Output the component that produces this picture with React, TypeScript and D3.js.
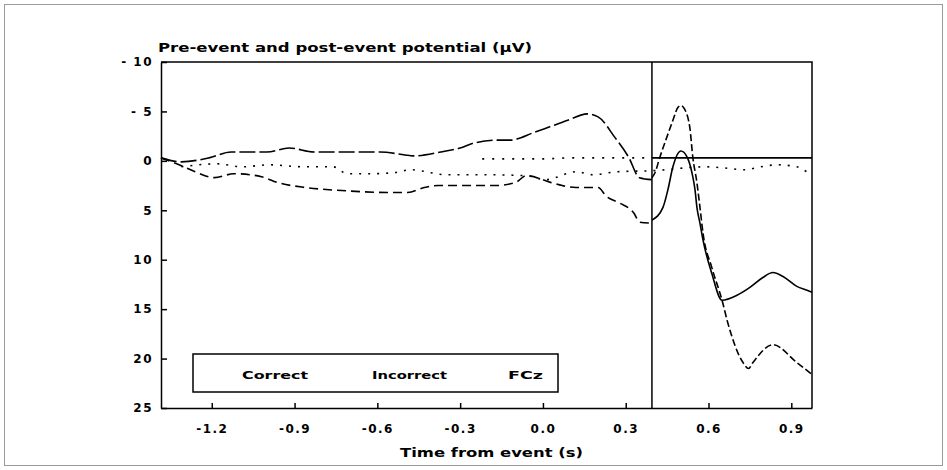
import { useRef, useEffect } from "react";
import * as d3 from "d3";

// pre-event traces (time in s, potential in µV; negative is drawn upward)
const timeA = [-1.384, -1.31, -1.21, -1.13, -1.0, -0.92, -0.83, -0.71, -0.59, -0.5, -0.47, -0.37, -0.3, -0.25, -0.16, -0.12, -0.03, 0.02, 0.09, 0.16, 0.2, 0.26, 0.31, 0.35, 0.395];
const traceA = [-0.3, 0.1, -0.3, -0.9, -0.9, -1.3, -0.9, -0.9, -0.9, -0.6, -0.5, -0.9, -1.3, -1.8, -2.1, -2.1, -2.9, -3.4, -4.1, -4.75, -4.45, -2.4, -0.4, 1.7, 1.9];

const timeB = [-1.384, -1.31, -1.26, -1.19, -1.12, -1.02, -0.96, -0.86, -0.73, -0.56, -0.49, -0.43, -0.38, -0.29, -0.17, -0.1, -0.06, 0.03, 0.07, 0.12, 0.2, 0.23, 0.28, 0.33, 0.35, 0.395];
const traceB = [-0.3, 0.5, 1.1, 1.7, 1.3, 1.6, 2.2, 2.7, 3.0, 3.2, 3.2, 2.7, 2.5, 2.5, 2.5, 2.2, 1.5, 2.2, 2.5, 2.7, 2.7, 3.6, 4.3, 5.3, 6.2, 6.3];

const timeC = [-1.31, -1.18, -1.09, -0.99, -0.87, -0.76, -0.71, -0.62, -0.54, -0.48, -0.35, -0.23, -0.06, 0.01, 0.12, 0.18, 0.27, 0.395, 0.59, 0.65, 0.73, 0.79, 0.85, 0.92, 0.96];
const traceC = [0.6, 0.3, 0.6, 0.4, 0.6, 0.6, 1.3, 1.3, 1.2, 0.9, 1.4, 1.4, 1.5, 1.9, 1.1, 1.4, 1.1, 1.0, 0.6, 0.7, 0.9, 0.6, 0.4, 0.6, 1.2];

const timeD = [-0.22, -0.15, -0.06, 0.0, 0.1, 0.2, 0.3, 0.395];
const traceD = [-0.2, -0.2, -0.2, -0.2, -0.3, -0.3, -0.3, -0.3];

// post-event traces
const postTimeA = [0.395, 0.406, 0.424, 0.449, 0.471, 0.489, 0.5, 0.514, 0.533, 0.543, 0.558, 0.569, 0.58, 0.612, 0.649, 0.67, 0.725, 0.745, 0.761, 0.833, 0.92, 0.975];
const postA = [1.7, 1.2, -0.4, -2.4, -4.1, -5.4, -5.6, -5.2, -3.2, -0.4, 2.2, 4.7, 7.3, 10.8, 14.1, 16.4, 20.4, 21.0, 20.4, 18.6, 20.4, 21.6];

const postTimeB = [0.395, 0.435, 0.453, 0.471, 0.5, 0.522, 0.54, 0.551, 0.558, 0.569, 0.58, 0.612, 0.649, 0.703, 0.75, 0.797, 0.833, 0.87, 0.92, 0.957, 0.975];
const postB = [6.0, 4.7, 2.9, 0.6, -1.0, -0.4, 1.2, 2.9, 4.7, 6.3, 8.0, 11.4, 14.1, 13.6, 12.8, 11.8, 11.3, 11.7, 12.7, 13.1, 13.3];

const baselineTime = [0.395, 0.975];
const baselineVal = [-0.3, -0.3];

const eventTime = 0.395;

const yTicks = [-10, -5, 0, 5, 10, 15, 20, 25];
const yTickLabels = ["- 10", "- 5", "0", "5", "10", "15", "20", "25"];
const xTicks = [-1.2, -0.9, -0.6, -0.3, 0.0, 0.3, 0.6, 0.9];
const xTickLabels = ["-1.2", "-0.9", "-0.6", "-0.3", "0.0", "0.3", "0.6", "0.9"];

const legendLabels = ["Correct", "Incorrect", "FCz"];

const titleText = "Pre-event and post-event potential (µV)";
const xLabel = "Time from event (s)";

const App = () => {
  const container = useRef<SVGSVGElement | null>(null);

  useEffect(() => {
    const svg = d3.select(container.current);
    svg.selectAll("*").remove();

    const font = "'DejaVu Sans', sans-serif";

    const xScale = d3.scaleLinear().domain([-1.384, 0.975]).range([161, 812]);
    const yScale = d3.scaleLinear().domain([-10, 25]).range([62, 408]);

    // outer frame
    svg
      .append("rect")
      .attr("x", 4.5)
      .attr("y", 4.5)
      .attr("width", 938)
      .attr("height", 461)
      .attr("fill", "white")
      .attr("stroke", "#9a9a9a");

    // plot frame (top + right)
    svg
      .append("path")
      .attr("d", `M${xScale(-1.384)},${yScale(-10)}H${xScale(0.975)}V${yScale(25)}`)
      .attr("fill", "none")
      .attr("stroke", "black")
      .attr("stroke-width", 1.5);

    // axes
    const yAxis = d3
      .axisLeft(yScale)
      .tickValues(yTicks)
      .tickSizeInner(-6)
      .tickSizeOuter(0)
      .tickPadding(8)
      .tickFormat((d, i) => yTickLabels[i]);

    const yg = svg
      .append("g")
      .attr("transform", `translate(${xScale(-1.384)},0)`)
      .call(yAxis);

    const xAxis = d3
      .axisBottom(xScale)
      .tickValues(xTicks)
      .tickSizeInner(-5)
      .tickSizeOuter(0)
      .tickPadding(16)
      .tickFormat((d, i) => xTickLabels[i]);

    const xg = svg
      .append("g")
      .attr("transform", `translate(0,${yScale(25)})`)
      .call(xAxis);

    [yg, xg].forEach((g) => {
      g.selectAll("path, line").attr("stroke", "black").attr("stroke-width", 1.5);
      g.selectAll("text")
        .attr("fill", "black")
        .style("font-family", font)
        .style("font-weight", "bold")
        .style("font-size", "12px")
        .style("letter-spacing", "1.5px");
    });

    // event marker
    svg
      .append("line")
      .attr("x1", xScale(eventTime))
      .attr("x2", xScale(eventTime))
      .attr("y1", yScale(-10))
      .attr("y2", yScale(25))
      .attr("stroke", "black")
      .attr("stroke-width", 1.5);

    const line = d3
      .line<[number, number]>()
      .x((d) => xScale(d[0]))
      .y((d) => yScale(d[1]))
      .curve(d3.curveMonotoneX);

    const traces = [
      { t: timeA, v: traceA, dash: "16,4" },
      { t: timeB, v: traceB, dash: "9,5" },
      { t: timeC, v: traceC, dash: "2,7" },
      { t: timeD, v: traceD, dash: "2,8" },
      { t: postTimeA, v: postA, dash: "7,3" },
      { t: postTimeB, v: postB, dash: null },
      { t: baselineTime, v: baselineVal, dash: null },
    ];

    svg
      .selectAll(".trace")
      .data(traces)
      .join("path")
      .attr("class", "trace")
      .attr("d", (d) => line(d.t.map((t, i) => [t, d.v[i]] as [number, number])))
      .attr("fill", "none")
      .attr("stroke", "black")
      .attr("stroke-width", 1.6)
      .attr("stroke-dasharray", (d) => d.dash);

    // legend box
    svg
      .append("rect")
      .attr("x", 193)
      .attr("y", 354)
      .attr("width", 365)
      .attr("height", 38)
      .attr("fill", "none")
      .attr("stroke", "black")
      .attr("stroke-width", 1.5);

    const legendX = [242, 372, 508];
    const legendW = [66, 75, 35];
    svg
      .selectAll(".legend-text")
      .data(legendLabels)
      .join("text")
      .attr("class", "legend-text")
      .attr("x", (d, i) => legendX[i])
      .attr("y", 379)
      .attr("textLength", (d, i) => legendW[i])
      .attr("lengthAdjust", "spacingAndGlyphs")
      .style("font-family", font)
      .style("font-weight", "bold")
      .style("font-size", "11px")
      .text((d) => d);

    // title and axis label
    svg
      .append("text")
      .attr("x", 158)
      .attr("y", 52)
      .attr("textLength", 374)
      .attr("lengthAdjust", "spacingAndGlyphs")
      .style("font-family", font)
      .style("font-weight", "bold")
      .style("font-size", "12px")
      .text(titleText);

    svg
      .append("text")
      .attr("x", 400)
      .attr("y", 457)
      .attr("textLength", 183)
      .attr("lengthAdjust", "spacingAndGlyphs")
      .style("font-family", font)
      .style("font-weight", "bold")
      .style("font-size", "12px")
      .text(xLabel);
  });

  return (
    <svg
      ref={container}
      width={947}
      height={470}
      style={{ position: "absolute", left: 0, top: 0, display: "block", background: "white" }}
    ></svg>
  );
};

export default App;
